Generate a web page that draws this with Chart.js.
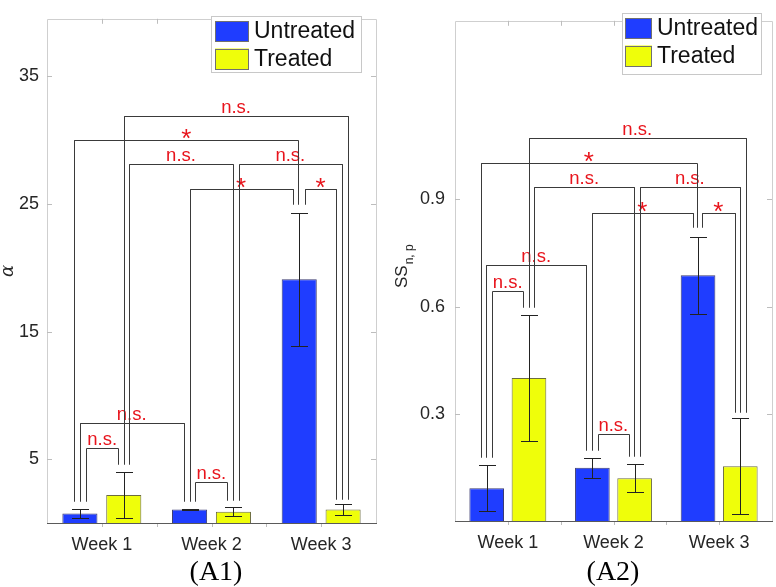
<!DOCTYPE html>
<html><head><meta charset="utf-8">
<script src="https://cdn.jsdelivr.net/npm/chart.js@4.4.1/dist/chart.umd.min.js"></script>
<style>
html,body{margin:0;padding:0;background:#fff;}
#wrap{position:relative;width:776px;height:587px;overflow:hidden;}
.panel{position:absolute;top:0;height:587px;}
canvas{display:block;}
</style></head><body>
<div id="wrap">
<div class="panel" style="left:0;width:390px"><canvas id="c1" width="390" height="587"></canvas></div>
<div class="panel" style="left:390px;width:386px"><canvas id="c2" width="386" height="587"></canvas></div>
</div>
<script>
// ---------------- data ----------------
const categories = ['Week 1', 'Week 2', 'Week 3'];
const seriesNames = ['Untreated', 'Treated'];

const alphaUntreated    = [0.75, 1.05, 19.1];
const alphaUntreatedErr = [0.35, 0.07, 5.2];
const alphaTreated      = [2.2, 0.88, 1.05];
const alphaTreatedErr   = [1.8, 0.36, 0.45];
const alphaTicks = [5, 15, 25, 35];
const alphaMax = 39.5;

const ssUntreated    = [0.092, 0.149, 0.688];
const ssUntreatedErr = [0.065, 0.028, 0.108];
const ssTreated      = [0.40, 0.12, 0.153];
const ssTreatedErr   = [0.177, 0.039, 0.134];
const ssTicks = [0.3, 0.6, 0.9];
const ssMax = 1.4;

// significance brackets: [xFrom, xTo, yLine, legFromBottom, legToBottom, label]
// x in category units (0 = Week 1), y in data units
const alphaBrackets = [
  [-0.143, 0.148,  5.9,  1.74, 4.64, 'n.s.'],
  [-0.200, 0.745,  7.8,  1.74, 1.74, 'n.s.'],
  [ 0.852, 1.145,  3.2,  1.74, 1.82, 'n.s.'],
  [ 0.800, 1.739, 26.2,  1.74, 25.0, '*'],
  [ 1.852, 2.139, 26.2,  25.0, 1.90, '*'],
  [ 0.250, 1.194, 28.1,  4.64, 1.82, 'n.s.'],
  [ 1.248, 2.190, 28.1,  1.82, 1.90, 'n.s.'],
  [-0.252, 1.793, 30.0,  1.74, 25.0, '*'],
  [ 0.203, 2.245, 31.9,  4.64, 1.90, 'n.s.']
];
const ssBrackets = [
  [-0.148, 0.144, 0.645, 0.180, 0.600, 'n.s.'],
  [-0.205, 0.742, 0.716, 0.180, 0.198, 'n.s.'],
  [ 0.852, 1.144, 0.244, 0.198, 0.183, 'n.s.'],
  [ 0.795, 1.748, 0.863, 0.198, 0.822, '*'],
  [ 1.840, 2.146, 0.863, 0.822, 0.306, '*'],
  [ 0.248, 1.198, 0.935, 0.600, 0.183, 'n.s.'],
  [ 1.250, 2.195, 0.935, 0.183, 0.306, 'n.s.'],
  [-0.255, 1.790, 1.003, 0.180, 0.822, '*'],
  [ 0.198, 2.252, 1.072, 0.600, 0.306, 'n.s.']
];

// ---------------- drawing ----------------
Chart.defaults.font.family = "'Liberation Sans', Arial, Helvetica, sans-serif";
Chart.defaults.color = '#262626';
const BLUE = '#1f3dff', YELLOW = '#effe0a';
const LINE = '#3a3a3a', RED = '#e8141c';

const annotPlugin = {
  id: 'annot',
  afterDatasetsDraw(chart, args, o) {
    const ctx = chart.ctx, xs = chart.scales.x, ys = chart.scales.y, a = chart.chartArea;
    const step = xs.getPixelForValue(1) - xs.getPixelForValue(0);
    const X = u => xs.getPixelForValue(0) + u * step;
    const Y = v => ys.getPixelForValue(v);
    const px = v => Math.round(v) + 0.5;
    ctx.save();
    ctx.lineWidth = 1;
    // frame
    ctx.strokeStyle = '#cfcfcf';
    ctx.beginPath();
    ctx.moveTo(px(a.left), px(a.bottom)); ctx.lineTo(px(a.left), px(a.top));
    ctx.lineTo(px(a.right), px(a.top)); ctx.lineTo(px(a.right), px(a.bottom));
    ctx.stroke();
    ctx.strokeStyle = '#bdbdbd';
    ctx.beginPath();
    o.yTicks.forEach(v => {
      const y = px(Y(v));
      ctx.moveTo(a.left, y); ctx.lineTo(a.left + 5, y);
      ctx.moveTo(a.right, y); ctx.lineTo(a.right - 5, y);
    });
    for (let u = 0; u <= 2.001; u += 0.5) {
      const x = px(X(u));
      ctx.moveTo(x, a.top); ctx.lineTo(x, a.top + 5);
      ctx.moveTo(x, a.bottom); ctx.lineTo(x, a.bottom + 4);
    }
    ctx.stroke();
    ctx.strokeStyle = '#5a5a5a';
    ctx.beginPath();
    ctx.moveTo(a.left, px(a.bottom)); ctx.lineTo(a.right + 1, px(a.bottom));
    ctx.stroke();

    // error bars
    ctx.strokeStyle = '#222';
    chart.data.datasets.forEach((ds, i) => {
      const meta = chart.getDatasetMeta(i);
      meta.data.forEach((bar, j) => {
        const v = ds.data[j], e = o.errors[i][j];
        const x = px(bar.x);
        const yt = px(Y(v + e)), yb = px(Y(v - e));
        ctx.beginPath();
        ctx.moveTo(x, yt); ctx.lineTo(x, yb);
        ctx.moveTo(x - 8.5, yt); ctx.lineTo(x + 8.5, yt);
        ctx.moveTo(x - 8.5, yb); ctx.lineTo(x + 8.5, yb);
        ctx.stroke();
      });
    });

    // brackets
    const drawBracket = b => {
      const x1 = px(X(b[0])), x2 = px(X(b[1])), yl = px(Y(b[2]));
      ctx.strokeStyle = LINE;
      ctx.beginPath();
      ctx.moveTo(x1, px(Y(b[3]))); ctx.lineTo(x1, yl); ctx.lineTo(x2, yl); ctx.lineTo(x2, px(Y(b[4])));
      ctx.stroke();
    };
    o.brackets.forEach(drawBracket);
    o.brackets.forEach(b => {
      const star = b[5] === '*';
      ctx.font = star ? "26px 'Liberation Sans', Arial" : "18.5px 'Liberation Sans', Arial";
      const w = ctx.measureText(b[5]).width;
      const cx = (X(b[0]) + X(b[1])) / 2, yl = Y(b[2]);
      const hw = w / 2 + (star ? 6 : 4);
      ctx.fillStyle = '#fff';
      ctx.fillRect(cx - hw, yl - 24, 2 * hw, 28);
      drawBracket(b);
      ctx.fillStyle = RED;
      ctx.textAlign = 'center';
      ctx.textBaseline = 'alphabetic';
      ctx.fillText(b[5], cx, star ? yl + 7 : yl - 3);
    });

    // legend
    const L = o.legend;
    ctx.fillStyle = '#fff';
    ctx.fillRect(L.x, L.y, L.w, L.h);
    ctx.strokeStyle = '#c8c8c8';
    ctx.strokeRect(px(L.x), px(L.y), Math.round(L.w), Math.round(L.h));
    chart.data.datasets.forEach((ds, i) => {
      const sy = L.y + 5 + i * 27.5;
      ctx.fillStyle = ds.backgroundColor;
      ctx.fillRect(L.x + L.sx, sy, L.sw, 21);
      ctx.strokeStyle = '#707070';
      ctx.strokeRect(px(L.x + L.sx), px(sy), Math.round(L.sw) - 1, 20);
      ctx.fillStyle = '#111';
      ctx.font = "23px 'Liberation Sans', Arial";
      ctx.textAlign = 'left';
      ctx.textBaseline = 'middle';
      ctx.fillText(ds.label, L.x + L.sx + L.sw + 5, sy + 11);
    });

    // y axis title
    ctx.save();
    ctx.fillStyle = '#262626';
    if (o.yTitle === 'alpha') {
      ctx.translate(8, (a.top + a.bottom) / 2);
      ctx.rotate(-Math.PI / 2);
      ctx.font = "italic 18px 'DejaVu Serif', serif";
      ctx.textAlign = 'center';
      ctx.textBaseline = 'middle';
      ctx.fillText('\u03b1', 0, 0);
    } else {
      ctx.translate(17, 288);
      ctx.rotate(-Math.PI / 2);
      ctx.font = "17px 'Liberation Sans', Arial";
      ctx.textAlign = 'left';
      ctx.textBaseline = 'alphabetic';
      ctx.fillText('SS', 0, 0);
      const w = ctx.measureText('SS').width;
      ctx.font = "12px 'Liberation Sans', Arial";
      ctx.fillText('n, p', w + 1, 6);
    }
    ctx.restore();

    // panel title
    ctx.fillStyle = '#000';
    ctx.font = "28px 'Liberation Serif', 'Times New Roman', serif";
    ctx.textAlign = 'center';
    ctx.textBaseline = 'middle';
    ctx.fillText(o.panelTitle, o.titleX, 573);
    ctx.restore();
  }
};

function makeChart(id, cfg) {
  return new Chart(document.getElementById(id), {
    type: 'bar',
    data: {
      labels: categories,
      datasets: [
        { label: seriesNames[0], data: cfg.untreated, backgroundColor: BLUE, borderColor: '#3c3c70', borderWidth: 1 },
        { label: seriesNames[1], data: cfg.treated, backgroundColor: YELLOW, borderColor: '#6c6c40', borderWidth: 1 }
      ]
    },
    options: {
      responsive: false, animation: false, devicePixelRatio: 1,
      layout: { padding: { left: 0, right: cfg.padRight, top: 3, bottom: 0 } },
      datasets: { bar: { categoryPercentage: 0.8, barPercentage: cfg.barPct } },
      plugins: {
        legend: { display: false }, tooltip: { enabled: false }, title: { display: false },
        annot: {
          errors: [cfg.untreatedErr, cfg.treatedErr], brackets: cfg.brackets, yTicks: cfg.ticks,
          legend: cfg.legend, yTitle: cfg.yTitle, panelTitle: cfg.panelTitle, titleX: cfg.titleX
        }
      },
      scales: {
        x: {
          type: 'category', offset: true,
          grid: { display: false, drawTicks: false }, border: { display: false },
          ticks: { font: { size: 18 }, color: '#262626', padding: 11, maxRotation: 0 },
          afterFit(s) { s.height = cfg.xHeight; }
        },
        y: {
          min: 0, max: cfg.max,
          grid: { display: false, drawTicks: false }, border: { display: false },
          ticks: { font: { size: 18 }, color: '#262626', padding: cfg.tickPad, callback: v => String(v) },
          afterBuildTicks(s) { s.ticks = cfg.ticks.map(v => ({ value: v })); },
          afterFit(s) { s.width = cfg.yWidth; }
        }
      }
    },
    plugins: [annotPlugin]
  });
}

makeChart('c1', {
  untreated: alphaUntreated, treated: alphaTreated,
  untreatedErr: alphaUntreatedErr, treatedErr: alphaTreatedErr,
  brackets: alphaBrackets, ticks: alphaTicks, max: alphaMax,
  padRight: 14, yWidth: 47, xHeight: 64, tickPad: 8, barPct: 0.8,
  legend: { x: 211, y: 16, w: 150, h: 56, sx: 4, sw: 34 },
  yTitle: 'alpha', panelTitle: '(A1)', titleX: 216
});
makeChart('c2', {
  untreated: ssUntreated, treated: ssTreated,
  untreatedErr: ssUntreatedErr, treatedErr: ssTreatedErr,
  brackets: ssBrackets, ticks: ssTicks, max: ssMax,
  padRight: 4, yWidth: 65, xHeight: 66, tickPad: 10, barPct: 0.82,
  legend: { x: 232, y: 13, w: 139, h: 61, sx: 3, sw: 27 },
  yTitle: 'ss', panelTitle: '(A2)', titleX: 223
});
</script>
</body></html>
